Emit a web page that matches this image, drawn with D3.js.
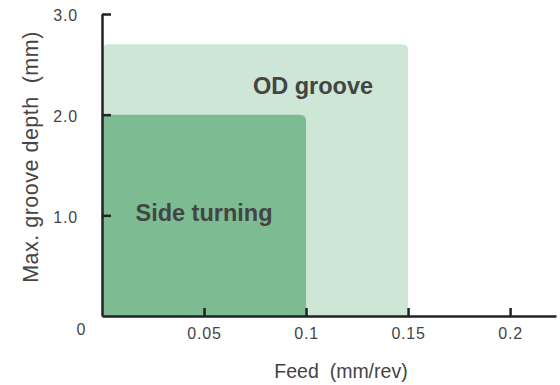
<!DOCTYPE html>
<html><head><meta charset="utf-8">
<script src="https://cdn.jsdelivr.net/npm/d3@7"></script>
<style>body{margin:0;background:#fff}svg{display:block}text{font-family:"Liberation Sans",Arial,Helvetica,sans-serif}</style>
</head><body><svg id="c" width="560" height="385"></svg>
<script>
const regions = ["OD groove", "Side turning"];
const maxFeed = [0.15, 0.1];
const maxDepth = [2.7, 2.0];
const regionColors = ["#cde6d6", "#7dbc93"];
const xTicks = [0.05, 0.1, 0.15, 0.2];
const xTickLabels = ["0.05", "0.1", "0.15", "0.2"];
const yTicks = [1.0, 2.0, 3.0];
const yTickLabels = ["1.0", "2.0", "3.0"];

const svg = d3.select("#c");
const x = d3.scaleLinear().domain([0, 0.2225]).range([102, 556]);
const y = d3.scaleLinear().domain([0, 3]).range([316, 14]);
const textCol = "#444";

function topRounded(x0, x1, y0, y1, r) {
  return `M${x0},${y1}L${x0},${y0 + r}Q${x0},${y0} ${x0 + r},${y0}L${x1 - r},${y0}Q${x1},${y0} ${x1},${y0 + r}L${x1},${y1}Z`;
}

regions.forEach((name, i) => {
  svg.append("path")
    .attr("d", topRounded(x(0), x(maxFeed[i]), y(maxDepth[i]), y(0), 6))
    .attr("fill", regionColors[i]);
});

// region labels
svg.append("text").attr("x", 313).attr("y", 94).attr("text-anchor", "middle")
  .attr("font-weight", "bold").attr("font-size", 23.5).attr("fill", textCol).text(regions[0]);
svg.append("text").attr("x", 204).attr("y", 221).attr("text-anchor", "middle")
  .attr("font-weight", "bold").attr("font-size", 23.5).attr("fill", textCol).text(regions[1]);

// axes
const xAxis = d3.axisBottom(x).tickValues(xTicks).tickSizeInner(-8).tickSizeOuter(0)
  .tickFormat((d, i) => xTickLabels[i]).tickPadding(12);
const gx = svg.append("g").attr("transform", `translate(0,${y(0)})`).call(xAxis);
const yAxis = d3.axisLeft(y).tickValues(yTicks).tickSizeInner(-9).tickSizeOuter(0)
  .tickFormat((d, i) => yTickLabels[i]).tickPadding(24);
const gy = svg.append("g").attr("transform", `translate(${x(0)},0)`).call(yAxis);
[gx, gy].forEach(g => {
  g.select(".domain").attr("stroke", "#222").attr("stroke-width", 2.5);
  g.selectAll(".tick line").attr("stroke", "#222").attr("stroke-width", 2.5);
  g.selectAll(".tick text").attr("font-size", 16).attr("fill", textCol)
    .attr("letter-spacing", 0.8)
    .attr("font-family", '"Liberation Sans",Arial,sans-serif');
});
gy.selectAll(".tick text").attr("dy", "0.42em");

svg.append("text").attr("x", 81).attr("y", 335).attr("text-anchor", "middle")
  .attr("font-size", 16).attr("fill", textCol).text("0");

svg.append("text").attr("x", 341).attr("y", 378).attr("text-anchor", "middle")
  .attr("font-size", 19.5).attr("fill", textCol).attr("xml:space", "preserve").text("Feed  (mm/rev)");
svg.append("text").attr("transform", "translate(38,157) rotate(-90)").attr("text-anchor", "middle")
  .attr("font-size", 21.5).attr("letter-spacing", 0.5).attr("fill", textCol)
  .attr("xml:space", "preserve").text("Max. groove depth  (mm)");
</script></body></html>
